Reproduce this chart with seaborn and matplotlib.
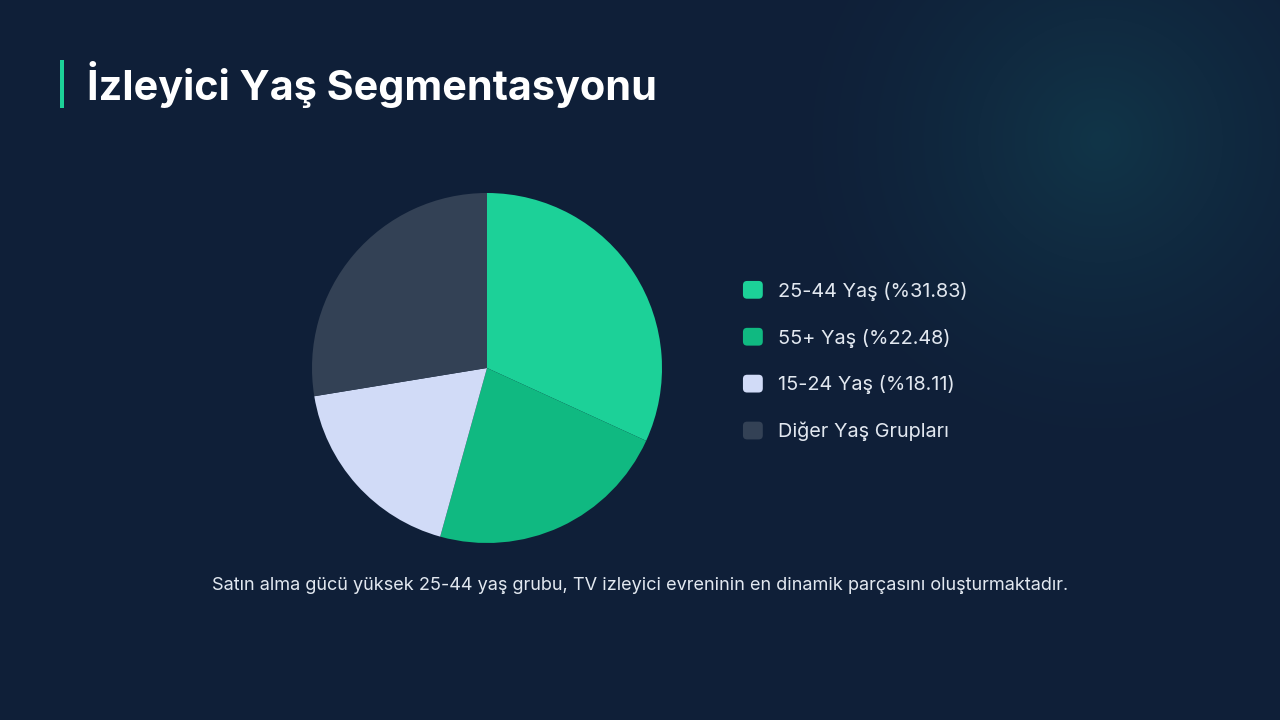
import numpy as np
import matplotlib
matplotlib.use("Agg")
import matplotlib.pyplot as plt
from matplotlib.patches import FancyBboxPatch
from matplotlib.legend_handler import HandlerPatch
import seaborn as sns

# Data
labels = ["25-44 Yaş (%31.83)", "55+ Yaş (%22.48)", "15-24 Yaş (%18.11)", "Diğer Yaş Grupları"]
shares = [31.83, 22.48, 18.11, 27.58]
colors = ["#1cd198", "#10b981", "#d1dbf7", "#334155"]

title = "İzleyici Yaş Segmentasyonu"
caption = "Satın alma gücü yüksek 25-44 yaş grubu, TV izleyici evreninin en dinamik parçasını oluşturmaktadır."

BG = "#0f1f38"
ACCENT = "#1cd198"

sns.set_theme(style="white")
plt.rcParams["font.family"] = ["Inter", "DejaVu Sans"]

W, H = 1280, 720
fig = plt.figure(figsize=(W / 100, H / 100), dpi=100)
fig.patch.set_facecolor(BG)

# background with soft glow top right
bg_ax = fig.add_axes([0, 0, 1, 1])
yy, xx = np.mgrid[0:H, 0:W]
d = np.sqrt((xx - 1100) ** 2 + (yy - 140) ** 2)
glow = np.clip(1 - d / 330, 0, 1) ** 1.5
base = np.array([0x0f, 0x1f, 0x38]) / 255
tint = np.array([0x11, 0x35, 0x48]) / 255
img = base[None, None, :] + (tint - base)[None, None, :] * glow[:, :, None]
bg_ax.imshow(img, extent=[0, W, H, 0], aspect="auto", interpolation="bilinear")
bg_ax.set_xlim(0, W)
bg_ax.set_ylim(H, 0)
bg_ax.axis("off")

# title and accent bar
bg_ax.add_patch(plt.Rectangle((60, 60), 4, 48, color=ACCENT, lw=0))
fig.text(87 / W, 1 - 85 / H, title, fontsize=29.8, fontweight="bold", color="white",
         va="center", ha="left", family=["Inter", "DejaVu Sans"])

# pie
cx, cy, r = 487, 368, 175
ax = fig.add_axes([(cx - r) / W, (H - cy - r) / H, 2 * r / W, 2 * r / H])
wedges, _ = ax.pie(shares, colors=colors, startangle=90, counterclock=False,
                   radius=1, wedgeprops=dict(linewidth=0))
ax.set_xlim(-1, 1)
ax.set_ylim(-1, 1)
ax.set_aspect("equal")
ax.axis("off")


def rounded_box(legend, orig_handle, xdescent, ydescent, width, height, fontsize):
    return FancyBboxPatch((-xdescent, -ydescent), width, height,
                          boxstyle="round,pad=0,rounding_size=3")


leg = fig.legend(wedges, labels, loc="upper left",
                 bbox_to_anchor=(735 / W, 1 - 273 / H), borderaxespad=0,
                 frameon=False, fontsize=14.3, labelcolor="#e2e8f0",
                 handlelength=1.0, handleheight=1.0, handletextpad=0.75,
                 labelspacing=1.37,
                 handler_map={w: HandlerPatch(patch_func=rounded_box) for w in wedges})

fig.text(640 / W, 1 - 586 / H, caption, fontsize=13.05, color="#e2e8f0",
         ha="center", va="center")

fig.savefig("out.png", dpi=100, facecolor=BG)
